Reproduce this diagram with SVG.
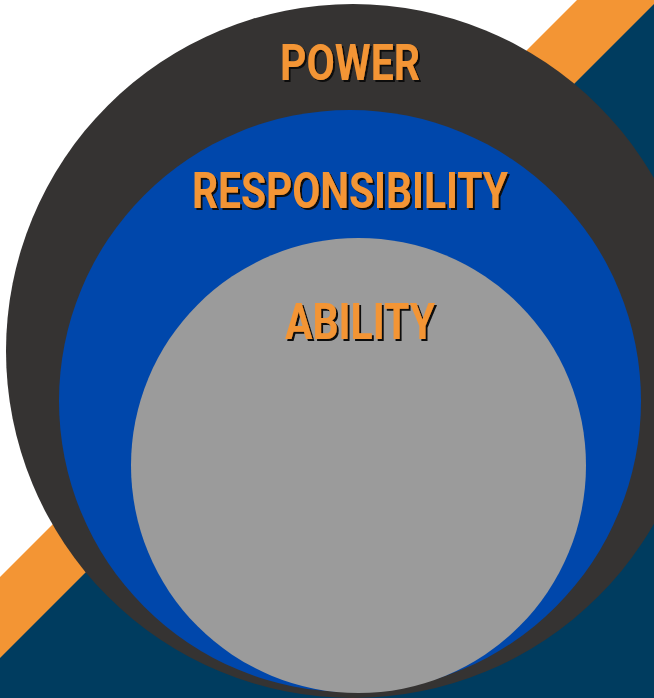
<svg xmlns="http://www.w3.org/2000/svg" width="654" height="698" viewBox="0 0 654 698">
<defs>
<filter id="shadow" x="-10%" y="-20%" width="130%" height="150%">
<feDropShadow dx="2" dy="2" stdDeviation="0.4" flood-color="#111111" flood-opacity="1"/>
</filter>
</defs>
<style>
.lbl{font-family:Roboto,"Liberation Sans",sans-serif;font-weight:700;font-size:50px;text-anchor:middle;fill:#F39534;filter:url(#shadow)}
</style>
<g id="background">
<rect x="0" y="0" width="654" height="698" fill="#FFFFFF"/>
<polygon points="577,0 654,0 654,698 0,698 0,577" fill="#F39534"/>
<polygon points="658,0 654,0 654,698 0,698 0,658" fill="#003C5F"/>
</g>
<g id="power">
<circle cx="353" cy="351" r="347" fill="#353332"/>
<text class="lbl" x="350" y="80" textLength="140" lengthAdjust="spacingAndGlyphs">POWER</text>
</g>
<g id="responsibility">
<circle cx="350" cy="401" r="291" fill="#0047AB"/>
<text class="lbl" x="350" y="208" textLength="316" lengthAdjust="spacingAndGlyphs">RESPONSIBILITY</text>
</g>
<g id="ability">
<circle cx="358.5" cy="465.5" r="227.5" fill="#9B9B9B"/>
<text class="lbl" x="360" y="339" textLength="150" lengthAdjust="spacingAndGlyphs">ABILITY</text>
</g>
<g id="connectors"></g>
</svg>
